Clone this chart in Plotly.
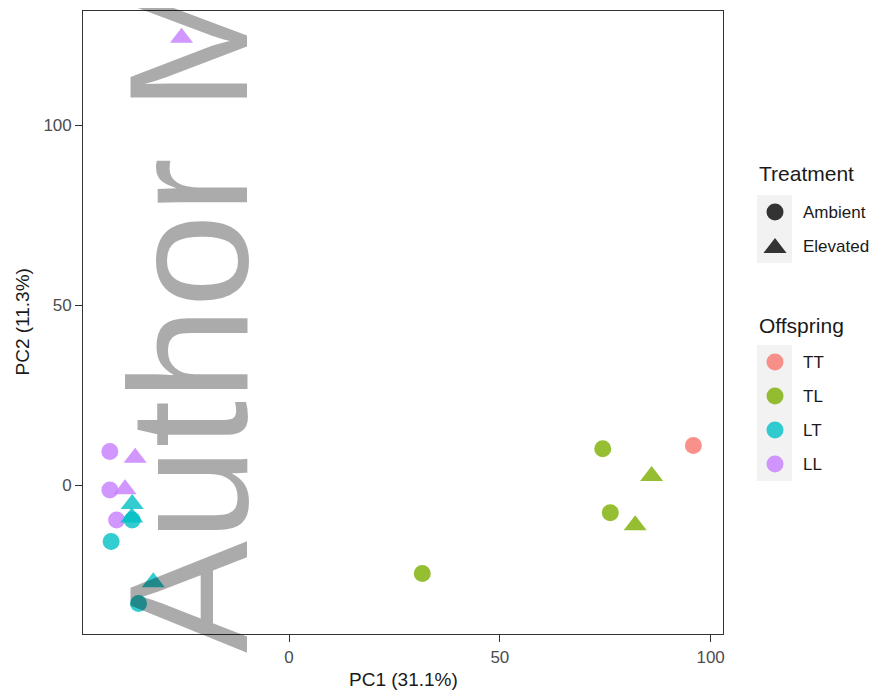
import plotly.graph_objects as go

# ---------------- data ----------------
pc1 = [95.9, 74.4, 86.0, 76.2, 82.1, 31.6,
       -25.5, -42.5, -36.5, -42.5, -38.9, -40.9,
       -37.2, -37.3, -37.2, -42.2, -32.2, -35.7]
pc2 = [11.0, 10.1, 2.5, -7.7, -11.2, -24.6,
       124.3, 9.3, 7.6, -1.4, -1.2, -9.7,
       -5.3, -9.0, -9.7, -15.7, -27.0, -32.9]
treatment = ["Ambient", "Ambient", "Elevated", "Ambient", "Elevated", "Ambient",
             "Elevated", "Ambient", "Elevated", "Ambient", "Elevated", "Ambient",
             "Elevated", "Elevated", "Ambient", "Ambient", "Elevated", "Ambient"]
offspring = ["TT", "TL", "TL", "TL", "TL", "TL",
             "LL", "LL", "LL", "LL", "LL", "LL",
             "LT", "LT", "LT", "LT", "LT", "LT"]

offspring_levels = ["TT", "TL", "LT", "LL"]
treatment_levels = ["Ambient", "Elevated"]
x_ticks = [0, 50, 100]
y_ticks = [0, 50, 100]
x_title = "PC1 (31.1%)"
y_title = "PC2 (11.3%)"

# ---------------- styles ----------------
colors = {"TT": "#F8766D", "TL": "#7CAE00", "LT": "#00BFC4", "LL": "#C77CFF"}
symbols = {"Ambient": "circle", "Elevated": "triangle-up"}
sizes = {"Ambient": 17, "Elevated": 20}
FONT = "Liberation Sans, Arial, sans-serif"

# the page body has an 8px default margin; work in window pixels and subtract it
OFF = 8
W, H = 877 - OFF, 693 - OFF


def px(v):
    return v - OFF


# panel pixel box (window pixels)
PX0, PX1, PY0, PY1 = px(83.3), px(723.3), px(11), px(634)

fig = go.Figure()

draw_order = ["TT", "TL", "LL", "LT"]
for off in draw_order:
    idx = [i for i, o in enumerate(offspring) if o == off]
    fig.add_trace(go.Scatter(
        x=[pc1[i] for i in idx], y=[pc2[i] for i in idx],
        mode="markers", xaxis="x", yaxis="y", showlegend=False,
        marker=dict(color=colors[off], opacity=0.8,
                    symbol=[symbols[treatment[i]] for i in idx],
                    size=[sizes[treatment[i]] for i in idx],
                    line=dict(width=0)),
        hoverinfo="x+y+text", text=[f"{off} / {treatment[i]}" for i in idx],
    ))

# ---------------- manual ggplot-style legend (pixel axes x2/y2) ----------------
KX0, KX1, KCX, LX = px(757), px(792), px(775), px(801)
shapes = []
annotations = []
KEY_H = 34
tre_top = px(195)
off_top = px(345)

annotations.append(dict(text="Treatment", x=px(757), y=px(173), xref="x2", yref="y2",
                        xanchor="left", yanchor="middle", showarrow=False,
                        font=dict(family=FONT, size=21, color="#1a1a1a")))
for k, lev in enumerate(treatment_levels):
    y0 = tre_top + k * KEY_H
    shapes.append(dict(type="rect", xref="x2", yref="y2", x0=KX0, x1=KX1, y0=y0, y1=y0 + KEY_H,
                       fillcolor="#f2f2f2", line=dict(width=0), layer="below"))
    cy = y0 + KEY_H / 2
    fig.add_trace(go.Scatter(x=[KCX], y=[cy + (2 if lev == "Elevated" else 0)], xaxis="x2", yaxis="y2",
                             mode="markers", showlegend=False, hoverinfo="skip",
                             marker=dict(color="#333333", symbol=symbols[lev], size=sizes[lev])))
    annotations.append(dict(text=lev, x=LX, y=cy, xref="x2", yref="y2",
                            xanchor="left", yanchor="middle", showarrow=False,
                            font=dict(family=FONT, size=17, color="#1a1a1a")))

annotations.append(dict(text="Offspring", x=px(757), y=px(325), xref="x2", yref="y2",
                        xanchor="left", yanchor="middle", showarrow=False,
                        font=dict(family=FONT, size=21, color="#1a1a1a")))
for k, lev in enumerate(offspring_levels):
    y0 = off_top + k * KEY_H
    shapes.append(dict(type="rect", xref="x2", yref="y2", x0=KX0, x1=KX1, y0=y0, y1=y0 + KEY_H,
                       fillcolor="#f2f2f2", line=dict(width=0), layer="below"))
    cy = y0 + KEY_H / 2
    fig.add_trace(go.Scatter(x=[KCX], y=[cy], xaxis="x2", yaxis="y2",
                             mode="markers", showlegend=False, hoverinfo="skip",
                             marker=dict(color=colors[lev], opacity=0.8, symbol="circle", size=17)))
    annotations.append(dict(text=lev, x=LX, y=cy, xref="x2", yref="y2",
                            xanchor="left", yanchor="middle", showarrow=False,
                            font=dict(family=FONT, size=17, color="#1a1a1a")))

# axis titles
annotations.append(dict(text=x_title, x=(PX0 + PX1) / 2 / W, y=1 - px(679) / H, xref="paper", yref="paper",
                        xanchor="center", yanchor="middle", showarrow=False,
                        font=dict(family=FONT, size=19, color="#1a1a1a")))
annotations.append(dict(text=y_title, x=px(22) / W, y=1 - (PY0 + PY1) / 2 / H, xref="paper", yref="paper",
                        xanchor="center", yanchor="middle", showarrow=False, textangle=-90,
                        font=dict(family=FONT, size=19, color="#1a1a1a")))

# watermark overlay
annotations.append(dict(text="Author M", x=px(189) / W, y=1 - px(312) / H, xref="paper", yref="paper",
                        xanchor="center", yanchor="middle", showarrow=False, textangle=-90,
                        font=dict(family=FONT, size=168, color="rgba(0,0,0,0.33)")))

axis_common = dict(showgrid=False, zeroline=False, showline=True, mirror=True,
                   linecolor="#333333", linewidth=1.3, ticks="outside", ticklen=7,
                   tickwidth=1.1, tickcolor="#333333", automargin=False,
                   tickfont=dict(family=FONT, size=17, color="#4d4d4d"))

fig.update_layout(
    width=W, height=H,
    margin=dict(l=0, r=0, t=0, b=0),
    paper_bgcolor="white", plot_bgcolor="rgba(0,0,0,0)",
    showlegend=False,
    xaxis=dict(domain=[PX0 / W, PX1 / W], range=[-48.8, 103.0], tickvals=x_ticks,
               anchor="y", **axis_common),
    yaxis=dict(domain=[1 - PY1 / H, 1 - PY0 / H], range=[-41.4, 131.7], tickvals=y_ticks,
               anchor="x", **axis_common),
    xaxis2=dict(domain=[px(741) / W, 1.0], range=[px(741), W], visible=False, anchor="y2", fixedrange=True),
    yaxis2=dict(domain=[0, 1], range=[H, 0], visible=False, anchor="x2", fixedrange=True),
    shapes=shapes,
    annotations=annotations,
)

fig.write_html("out.html")
